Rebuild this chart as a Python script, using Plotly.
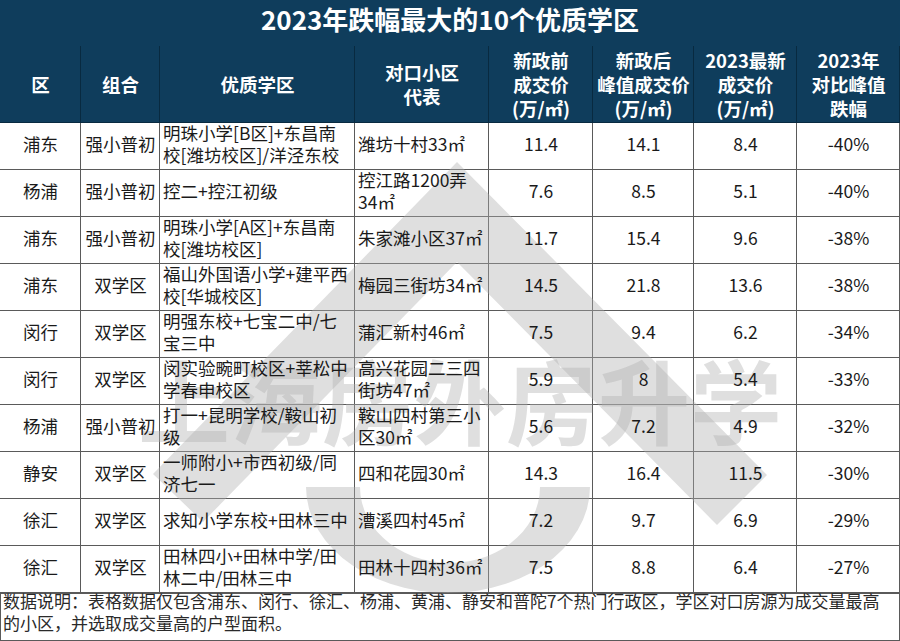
import math
import plotly.graph_objects as go

# 表格数据
districts = ["浦东", "杨浦", "浦东", "浦东", "闵行", "闵行", "杨浦", "静安", "徐汇", "徐汇"]
groups = ["强小普初", "强小普初", "强小普初", "双学区", "双学区", "双学区", "强小普初", "双学区", "双学区", "双学区"]
schools = [
    "明珠小学[B区]+东昌南<br>校[潍坊校区]/洋泾东校",
    "控二+控江初级",
    "明珠小学[A区]+东昌南<br>校[潍坊校区]",
    "福山外国语小学+建平西<br>校[华城校区]",
    "明强东校+七宝二中/七<br>宝三中",
    "闵实验畹町校区+莘松中<br>学春申校区",
    "打一+昆明学校/鞍山初<br>级",
    "一师附小+市西初级/同<br>济七一",
    "求知小学东校+田林三中",
    "田林四小+田林中学/田<br>林二中/田林三中",
]
estates = [
    "潍坊十村33㎡",
    "控江路1200弄<br>34㎡",
    "朱家滩小区37㎡",
    "梅园三街坊34㎡",
    "蒲汇新村46㎡",
    "高兴花园二三四<br>街坊47㎡",
    "鞍山四村第三小<br>区30㎡",
    "四和花园30㎡",
    "漕溪四村45㎡",
    "田林十四村36㎡",
]
price_before = [11.4, 7.6, 11.7, 14.5, 7.5, 5.9, 5.6, 14.3, 7.2, 7.5]
price_peak = [14.1, 8.5, 15.4, 21.8, 9.4, 8, 7.2, 16.4, 9.7, 8.8]
price_2023 = [8.4, 5.1, 9.6, 13.6, 6.2, 5.4, 4.9, 11.5, 6.9, 6.4]
drop_pct = [-40, -40, -38, -38, -34, -33, -32, -30, -29, -27]

headers = [
    "区", "组合", "优质学区", "对口小区<br>代表",
    "新政前<br>成交价<br>(万/㎡)", "新政后<br>峰值成交价<br>(万/㎡)",
    "2023最新<br>成交价<br>(万/㎡)", "2023年<br>对比峰值<br>跌幅",
]
title = "2023年跌幅最大的10个优质学区"
note = ("数据说明：表格数据仅包含浦东、闵行、徐汇、杨浦、黄浦、静安和普陀7个热门行政区，学区对口房源为成交量最高<br>"
        "的小区，并选取成交量高的户型面积。")

# 版式
W, H = 900, 641
col_widths = [81, 79, 195, 134, 104, 101, 103, 103]
title_h, header_h, row_h = 46, 77, 47
NAVY = "#0f3d5c"
FONT = "Noto Sans CJK SC"
TEXT = "#1a1a1a"
WM = "rgba(175,175,175,0.4)"

# 列边界 / 行边界
x_edges = [0]
for w in col_widths:
    x_edges.append(x_edges[-1] + w)
x_mid = [(a + b) / 2 for a, b in zip(x_edges[:-1], x_edges[1:])]

header_top = title_h
body_top = title_h + header_h
n_rows = len(districts)
n_cols = len(col_widths)
y_edges = [body_top + i * row_h for i in range(n_rows + 1)]
y_mid = [(a + b) / 2 for a, b in zip(y_edges[:-1], y_edges[1:])]
note_top = y_edges[-1]

fig = go.Figure()

# 标题栏
fig.add_trace(go.Heatmap(
    x=[0, W], y=[0, title_h], z=[[1]],
    colorscale=[[0, NAVY], [1, NAVY]], showscale=False, hoverinfo="skip",
))
# 表头
fig.add_trace(go.Heatmap(
    x=x_edges, y=[header_top, body_top], z=[[1] * n_cols],
    colorscale=[[0, NAVY], [1, NAVY]], showscale=False, hoverinfo="skip",
    xgap=1, ygap=1,
))
# 数据单元格
fig.add_trace(go.Heatmap(
    x=x_edges, y=y_edges, z=[[0] * n_cols for _ in range(n_rows)],
    colorscale=[[0, "white"], [1, "white"]], showscale=False, hoverinfo="skip",
    xgap=1, ygap=1,
))
# 说明栏
fig.add_trace(go.Heatmap(
    x=[0, W], y=[note_top, H], z=[[0]],
    colorscale=[[0, "white"], [1, "white"]], showscale=False, hoverinfo="skip",
    xgap=2, ygap=2,
))

# 表头区域的深色分隔线
fig.add_shape(type="rect", xref="x", yref="y", x0=0, x1=W, y0=0, y1=body_top,
              fillcolor="#082a40", line=dict(width=0), layer="below")

# 水印（放在文字之下）
roof_x = [153, 457, 767, 717, 457, 203, 153]
roof_y = [474, 162, 475, 525, 262, 522, 474]
fig.add_trace(go.Scatter(x=roof_x, y=roof_y, mode="lines", fill="toself",
                         fillcolor=WM, line=dict(width=0), hoverinfo="skip"))

bowl_x, bowl_y = [], []
for t in range(0, 181, 6):
    a = math.radians(t)
    bowl_x.append(448 - 142 * math.cos(a))
    bowl_y.append(487 + 106 * math.sin(a))
for t in range(180, -1, -6):
    a = math.radians(t)
    bowl_x.append(450 - 90 * math.cos(a))
    bowl_y.append(487 + 76 * math.sin(a))
fig.add_trace(go.Scatter(x=bowl_x, y=bowl_y, mode="lines", fill="toself",
                         fillcolor=WM, line=dict(width=0), hoverinfo="skip"))

fig.add_trace(go.Scatter(
    x=[W / 2 + 10], y=[415], mode="text", text=["<b>上海房外房升学</b>"],
    textfont=dict(family=FONT, size=92, color=WM), hoverinfo="skip", cliponaxis=False,
))

# 标题文字
fig.add_trace(go.Scatter(
    x=[W / 2], y=[title_h / 2], mode="text", text=[f"<b>{title}</b>"],
    textfont=dict(family=FONT, size=26, color="white"), hoverinfo="skip", cliponaxis=False,
))
# 表头文字
fig.add_trace(go.Scatter(
    x=x_mid, y=[(header_top + body_top) / 2 + 2.5] * n_cols, mode="text",
    text=[f"<b>{h}</b>" for h in headers],
    textfont=dict(family=FONT, size=18.5, color="white"), hoverinfo="skip", cliponaxis=False,
))

# 单元格文字
body_cols = [
    (districts, "center"),
    (groups, "center"),
    (schools, "left"),
    (estates, "left"),
    ([f"{v:g}" for v in price_before], "center"),
    ([f"{v:g}" for v in price_peak], "center"),
    ([f"{v:g}" for v in price_2023], "center"),
    ([f"{v}%" for v in drop_pct], "center"),
]
for j, (vals, align) in enumerate(body_cols):
    if align == "left":
        xs = [x_edges[j] + 3] * n_rows
        pos = "middle right"
    else:
        xs = [x_mid[j]] * n_rows
        pos = "middle center"
    fig.add_trace(go.Scatter(
        x=xs, y=y_mid, mode="text", text=vals, textposition=pos,
        textfont=dict(family=FONT, size=17.5, color=TEXT), hoverinfo="skip", cliponaxis=False,
    ))

# 说明文字
fig.add_trace(go.Scatter(
    x=[3], y=[(note_top + H) / 2 - 2], mode="text", text=[note], textposition="middle right",
    textfont=dict(family=FONT, size=17, color="#2a2a2a"), hoverinfo="skip", cliponaxis=False,
))

fig.update_layout(
    width=W, height=H,
    margin=dict(l=0, r=0, t=0, b=0),
    paper_bgcolor="white",
    plot_bgcolor="#5a5a5a",
    showlegend=False,
    xaxis=dict(range=[0, W], visible=False, fixedrange=True),
    yaxis=dict(range=[H, 0], visible=False, fixedrange=True),
)

fig.write_html("out.html", config={"displayModeBar": False},
               post_script="document.body.style.margin='0';")
